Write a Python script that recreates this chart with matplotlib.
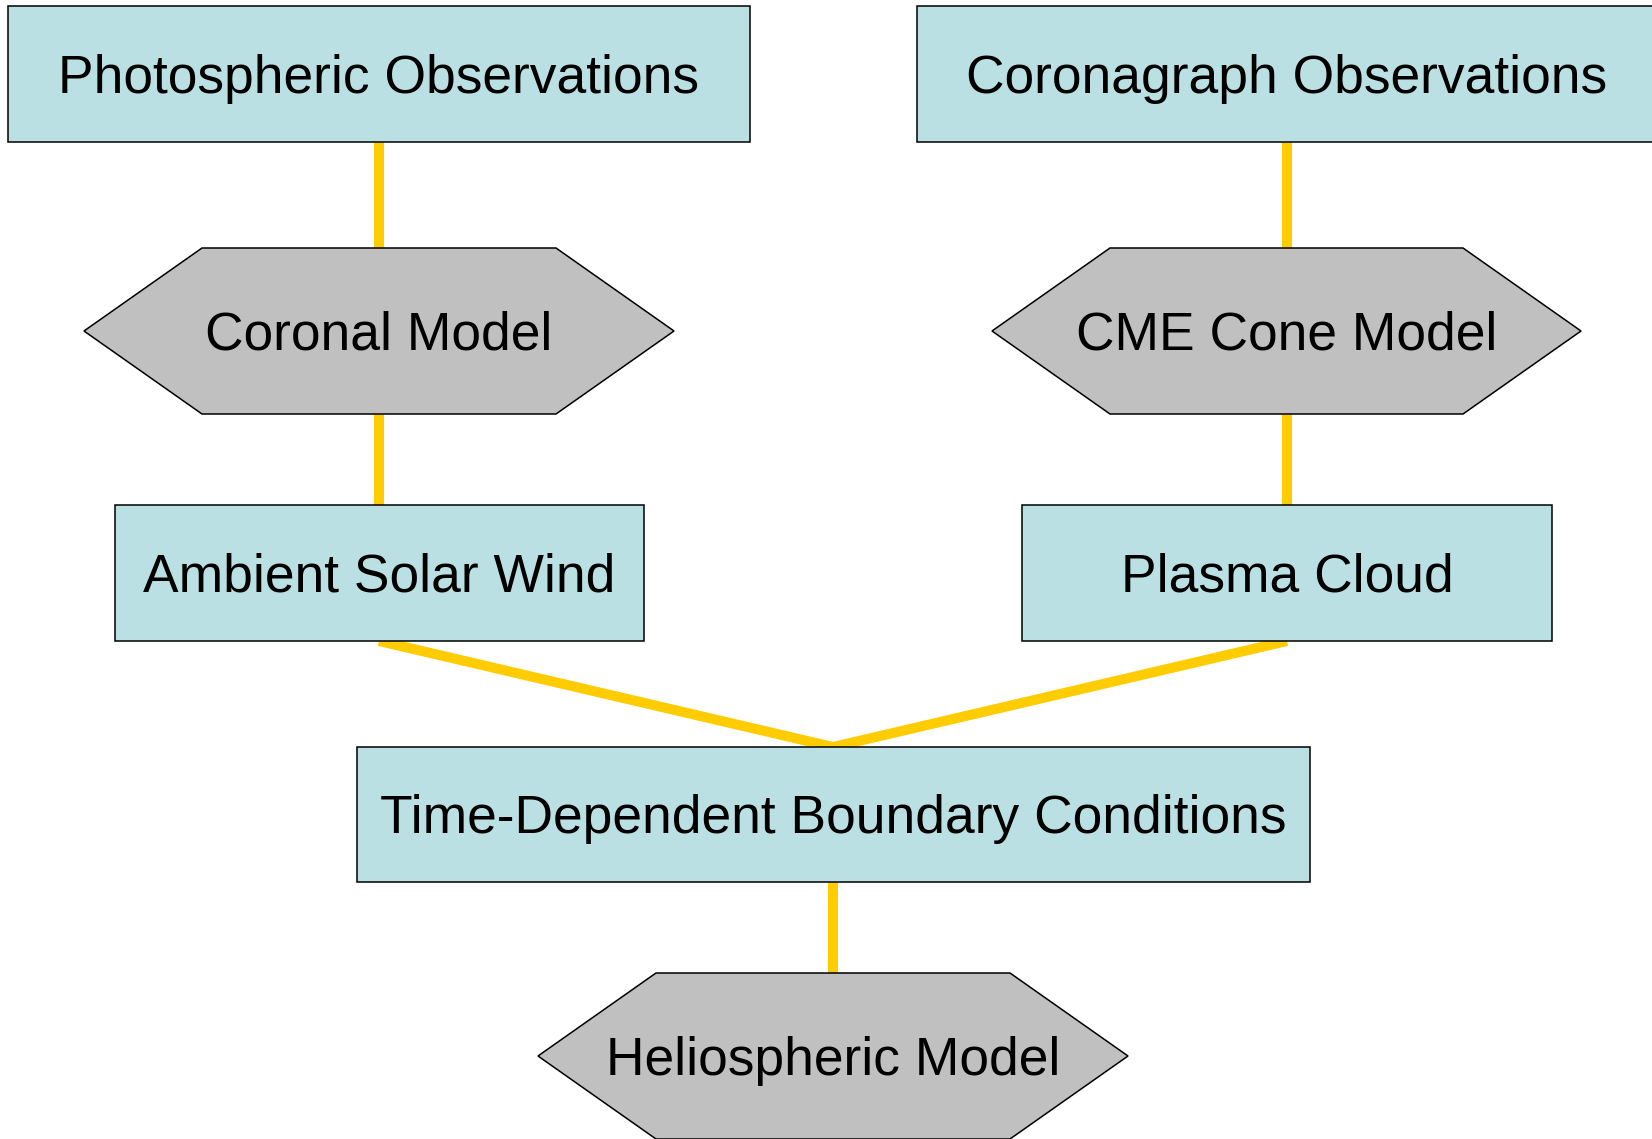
import matplotlib.pyplot as plt
from matplotlib.patches import Rectangle, Polygon

# nodes of the flowchart
labels = ["Photospheric Observations", "Coronagraph Observations",
          "Coronal Model", "CME Cone Model",
          "Ambient Solar Wind", "Plasma Cloud",
          "Time-Dependent Boundary Conditions", "Heliospheric Model"]
kinds = ["box", "box", "hex", "hex", "box", "box", "box", "hex"]
edges = [(0, 2), (2, 4), (1, 3), (3, 5), (4, 6), (5, 6), (6, 7)]

# layout in pixels: (left, top, right, bottom) and the x of the connector axis
layout = [(8, 6, 750, 142), (917, 6, 1670, 142),
          (84, 248, 674, 414), (992, 248, 1581, 414),
          (115, 505, 644, 641), (1022, 505, 1552, 641),
          (357, 747, 1310, 882), (538, 973, 1128, 1139)]
axis_x = [379, 1287, 379, 1287, 379, 1287, 833, 833]
hex_inset = 118

box_color = "#BBE0E3"
hex_color = "#C0C0C0"
line_color = "#FFCC00"

fig = plt.figure(figsize=(16.52, 11.39), dpi=100)
ax = fig.add_axes([0, 0, 1, 1])
ax.set_xlim(0, 1652)
ax.set_ylim(1139, 0)
ax.axis("off")

for a, b in edges:
    ax.plot([axis_x[a], axis_x[b]], [layout[a][3], layout[b][1]],
            color=line_color, linewidth=7.2, solid_capstyle="butt", zorder=1)

for i, (label, kind) in enumerate(zip(labels, kinds)):
    l, t, r, b = layout[i]
    if kind == "box":
        patch = Rectangle((l, t), r - l, b - t, facecolor=box_color,
                          edgecolor="black", linewidth=1.1, zorder=2)
    else:
        m = (t + b) / 2
        pts = [(l, m), (l + hex_inset, t), (r - hex_inset, t), (r, m),
               (r - hex_inset, b), (l + hex_inset, b)]
        patch = Polygon(pts, closed=True, facecolor=hex_color,
                        edgecolor="black", linewidth=1.1, zorder=2)
    ax.add_patch(patch)
    ax.text(axis_x[i], (t + b) / 2 + 5, label, ha="center", va="center",
            fontsize=38.4, family="Liberation Sans", color="black", zorder=3)

fig.savefig("out.png", dpi=100)
